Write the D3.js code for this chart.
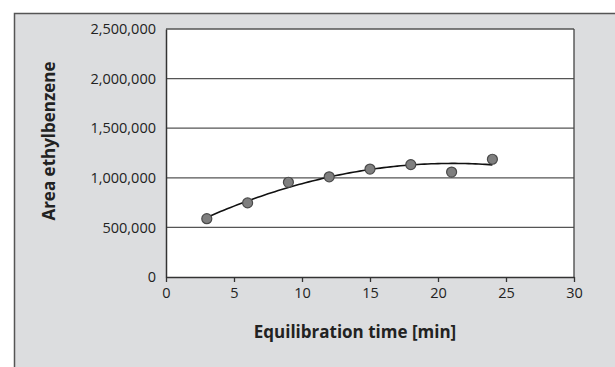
<!DOCTYPE html>
<html><head><meta charset="utf-8">
<script src="https://cdn.jsdelivr.net/npm/d3@7"></script>
<style>body{margin:0;background:#fff}svg{display:block}text{font-family:"Open Sans",sans-serif;fill:#222}</style>
</head><body><svg id="c" width="615" height="367"></svg>
<script>
const times = [3, 6, 9, 12, 15, 18, 21, 24];
const areas = [588000, 747000, 955000, 1010000, 1088000, 1133000, 1058000, 1187000];
const yTicks = [0, 500000, 1000000, 1500000, 2000000, 2500000];
const xTicks = [0, 5, 10, 15, 20, 25, 30];
const xTitle = "Equilibration time [min]";
const yTitle = "Area ethylbenzene";

const svg = d3.select("#c");
const W = 615, H = 367;
svg.append("rect").attr("width", W).attr("height", H).attr("fill", "#fff");
svg.append("rect").attr("x", 14.5).attr("y", 13.5).attr("width", W + 10).attr("height", H + 10)
  .attr("fill", "#dcdddf").attr("stroke", "#555").attr("stroke-width", 1.5);

const L = 166, R = 574, T = 29, B = 277;
const x = d3.scaleLinear().domain([0, 30]).range([L, R]);
const y = d3.scaleLinear().domain([0, 2500000]).range([B, T]);

svg.append("rect").attr("x", L).attr("y", T).attr("width", R - L).attr("height", B - T).attr("fill", "#fff");

// gridlines
svg.append("g").selectAll("line").data(yTicks.slice(1)).join("line")
  .attr("x1", L).attr("x2", R).attr("y1", d => y(d)).attr("y2", d => y(d))
  .attr("stroke", "#555").attr("stroke-width", 1.3);
svg.append("line").attr("x1", R).attr("x2", R).attr("y1", T).attr("y2", B).attr("stroke", "#444").attr("stroke-width", 1.3);

// axes
const fmt = d3.format(",");
const gy = svg.append("g").attr("transform", `translate(${L},0)`)
  .call(d3.axisLeft(y).tickValues(yTicks).tickFormat(fmt).tickSize(0).tickPadding(10));
gy.select(".domain").attr("stroke", "#333").attr("stroke-width", 1.5);
gy.selectAll("text").attr("font-size", 14.5).attr("fill", "#222").attr("font-family", "Open Sans");

const gx = svg.append("g").attr("transform", `translate(0,${B})`)
  .call(d3.axisBottom(x).tickValues(xTicks).tickSize(5).tickSizeOuter(0).tickPadding(6));
gx.select(".domain").attr("stroke", "#333").attr("stroke-width", 1.5);
gx.selectAll(".tick line").attr("stroke", "#333").attr("stroke-width", 1.3);
gx.selectAll("text").attr("font-size", 14.5).attr("fill", "#222").attr("font-family", "Open Sans");

// quadratic least-squares trendline computed from the data
function polyfit2(xs, ys) {
  let S = [0,0,0,0,0], T2 = [0,0,0];
  xs.forEach((xi, i) => { for (let k = 0; k < 5; k++) S[k] += Math.pow(xi, k); for (let k = 0; k < 3; k++) T2[k] += ys[i] * Math.pow(xi, k); });
  const M = [[S[0],S[1],S[2],T2[0]],[S[1],S[2],S[3],T2[1]],[S[2],S[3],S[4],T2[2]]];
  for (let i = 0; i < 3; i++) { for (let j = i+1; j < 3; j++) { const f = M[j][i]/M[i][i]; for (let k = i; k < 4; k++) M[j][k] -= f*M[i][k]; } }
  const c = [0,0,0];
  for (let i = 2; i >= 0; i--) { let s = M[i][3]; for (let k = i+1; k < 3; k++) s -= M[i][k]*c[k]; c[i] = s/M[i][i]; }
  return c;
}
const cf = polyfit2(times, areas);
const xs = d3.range(times[0], times[times.length-1] + 0.001, 0.25);
svg.append("path").datum(xs)
  .attr("d", d3.line().x(d => x(d)).y(d => y(cf[0] + cf[1]*d + cf[2]*d*d)))
  .attr("fill", "none").attr("stroke", "#111").attr("stroke-width", 1.6);

svg.append("g").selectAll("circle").data(times).join("circle")
  .attr("cx", d => x(d)).attr("cy", (d, i) => y(areas[i])).attr("r", 5)
  .attr("fill", "#7f7f7f").attr("stroke", "#4a4a4a").attr("stroke-width", 1.2);

svg.append("text").attr("x", 355).attr("y", 338).attr("text-anchor", "middle")
  .attr("font-size", 17).attr("font-weight", "bold").text(xTitle);
svg.append("text").attr("transform", "translate(55,141) rotate(-90)").attr("text-anchor", "middle")
  .attr("font-size", 17).attr("font-weight", "bold").text(yTitle);
</script></body></html>
